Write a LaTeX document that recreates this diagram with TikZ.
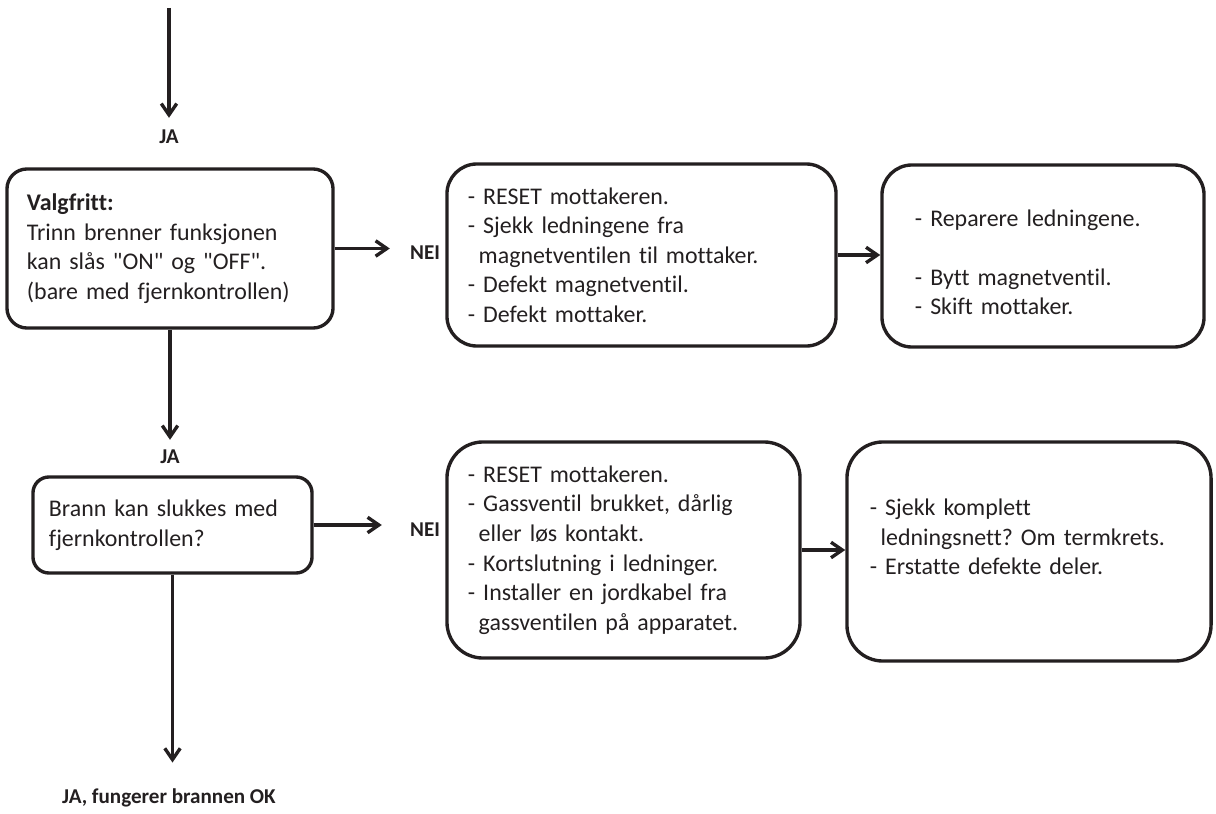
\documentclass[tikz,border=0pt]{standalone}
\usepackage{fontspec}
\setmainfont{Carlito}[Ligatures={TeX,NoCommon}]
\usetikzlibrary{arrows.meta}
\definecolor{ink}{HTML}{231F20}
\newcommand{\ind}{\hspace*{0.45em}}
\frenchspacing

\begin{document}
\begin{tikzpicture}[x=0.025cm, y=-0.025cm, color=ink,
  boks/.style={draw, line width=2.4pt, align=left, inner ysep=0pt, font=\fontsize{17}{21}\selectfont},
  svar/.style={inner sep=0pt, font=\fontsize{15}{18}\selectfont\bfseries},
  pil/.style={line width=2.4pt, -{Straight Barb[length=8pt,width=11pt]}}]
\useasboundingbox (0,0) rectangle (1216,814);
\coordinate (start) at (169,8);
\node[svar] (ja1) at (169,137){JA};
\node[boks, minimum width=8.15cm, minimum height=3.975cm, text width=7.15cm, inner xsep=0.5cm, rounded corners=0.5cm] (valg) at (170,248.5){\textbf{Valgfritt:}\\Trinn brenner funksjonen\\kan slås \textquotedbl ON\textquotedbl{} og \textquotedbl OFF\textquotedbl.\\(bare med fjernkontrollen)};
\node[svar] (nei1) at (425,253){NEI};
\node[boks, minimum width=9.725cm, minimum height=4.55cm, text width=8.675cm, inner xsep=0.525cm, rounded corners=0.75cm] (sjekka) at (641.5,255){- RESET mottakeren.\\- Sjekk ledningene fra\\\ind magnetventilen til mottaker.\\- Defekt magnetventil.\\- Defekt mottaker.};
\node[boks, minimum width=8.05cm, minimum height=4.55cm, text width=6.4cm, inner xsep=0.825cm, rounded corners=0.75cm] (fiksa) at (1043,256){\mbox{}\\- Reparere ledningene.\\\mbox{}\\- Bytt magnetventil.\\- Skift mottaker.};
\node[svar] (ja2) at (170,457){JA};
\node[boks, minimum width=6.975cm, minimum height=2.4cm, text width=6.175cm, inner xsep=0.4cm, rounded corners=0.4cm] (brann) at (172.5,525){Brann kan slukkes med\\fjernkontrollen?};
\node[svar] (nei2) at (425,530){NEI};
\node[boks, minimum width=8.825cm, minimum height=5.4cm, text width=7.775cm, inner xsep=0.525cm, rounded corners=0.9cm] (sjekkb) at (623.5,550){- RESET mottakeren.\\- Gassventil brukket, dårlig\\\ind eller løs kontakt.\\- Kortslutning i ledninger.\\- Installer en jordkabel fra\\\ind gassventilen på apparatet.};
\node[boks, minimum width=9.1cm, minimum height=5.475cm, text width=7.95cm, inner xsep=0.575cm, rounded corners=0.9cm] (fiksb) at (1029,551.5){- Sjekk komplett\\\ind ledningsnett? Om termkrets.\\- Erstatte defekte deler.\\\mbox{}};
\node[svar] (ok) at (169,798){JA, fungerer brannen OK};
\draw[pil, shorten >=0.3cm] (start)--(ja1);
\draw[pil, shorten >=0.5cm] (valg.east)--(valg.east -| nei1.west);
\draw[pil] (sjekka.east)--(sjekka.east -| fiksa.west);
\draw[pil, shorten >=0.25cm] (valg)--(ja2);
\draw[pil, shorten >=0.7cm] (brann.east)--(brann.east -| nei2.west);
\draw[pil] (sjekkb.east)--(sjekkb.east -| fiksb.west);
\draw[pil, shorten >=0.65cm] (brann.south)--(brann.south |- ok.north);
\end{tikzpicture}
\end{document}
